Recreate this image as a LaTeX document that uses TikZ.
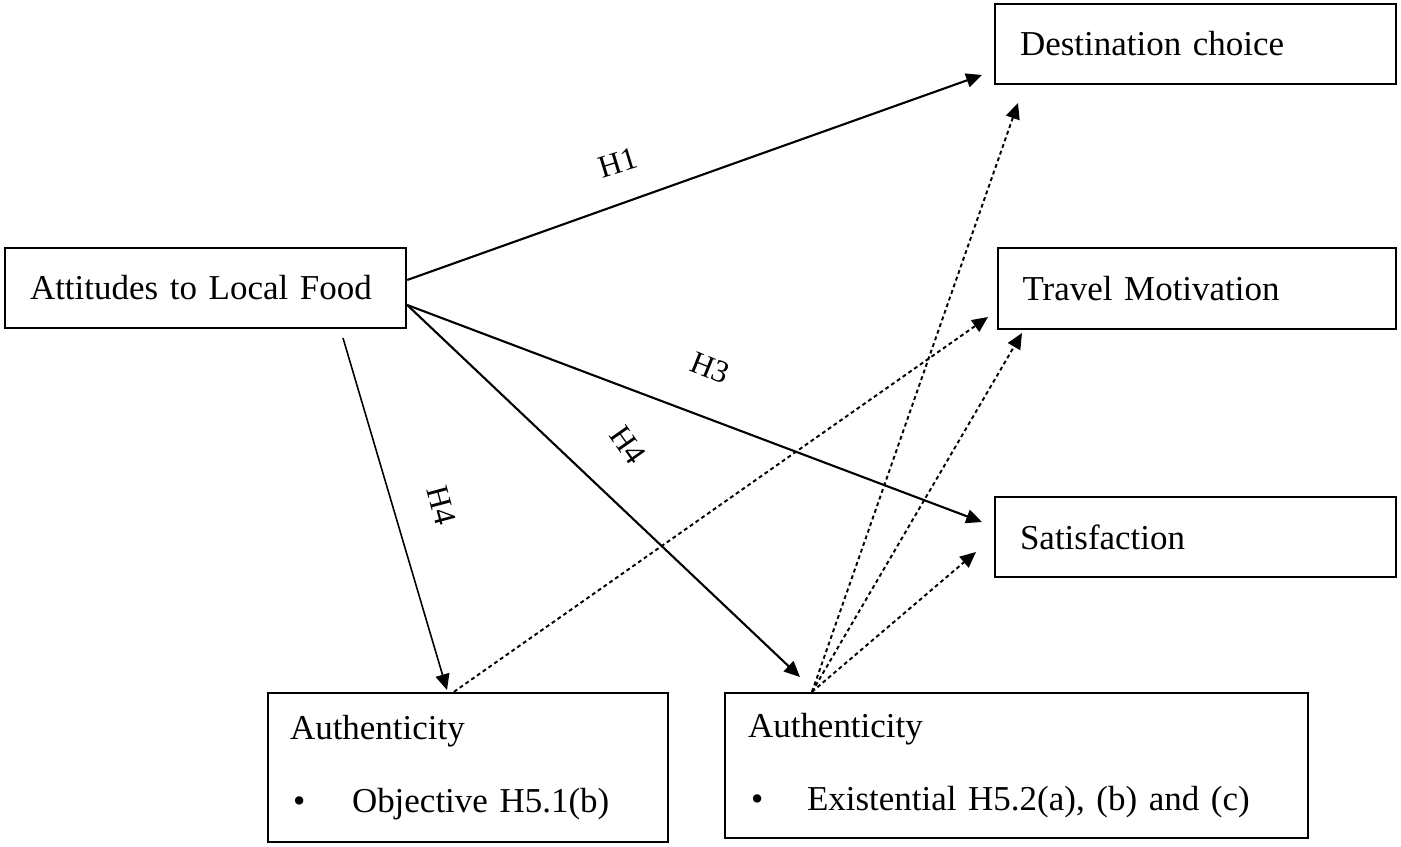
\documentclass[tikz,border=0pt]{standalone}
\usepackage{fontspec}
\setmainfont{Liberation Serif}
\usetikzlibrary{arrows.meta}
\begin{document}
\begin{tikzpicture}[x=0.02cm,y=-0.02cm,
  box/.style={draw, line width=1.4pt, inner ysep=0pt, align=left,
    font=\fontsize{19.9}{24}\selectfont},
  twoline/.style={box, font=\fontsize{19.9}{42}\selectfont},
  lbl/.style={font=\fontsize{18}{20}\selectfont, inner sep=0pt},
  solidarrow/.style={line width=1.2pt, -{Triangle[length=9pt,width=8pt]}},
  dasharrow/.style={line width=1.1pt, dash pattern=on 2.2pt off 1.8pt,
    -{Triangle[length=9pt,width=8pt]}}]
\useasboundingbox (0,0) rectangle (1401,847);

% boxes
\node[box, minimum width=8.02cm, minimum height=1.6cm, text width=7.02cm, inner xsep=0.5cm]
  (att) at (205.5,288) {Attitudes to Local Food};
\node[box, minimum width=8.02cm, minimum height=1.6cm, text width=7.02cm, inner xsep=0.5cm]
  (dest) at (1195.5,44) {Destination choice};
\node[box, minimum width=7.96cm, minimum height=1.62cm, text width=6.98cm, inner xsep=0.49cm]
  (tm) at (1197,288.5) {Travel Motivation};
\node[box, minimum width=8.02cm, minimum height=1.6cm, text width=7.02cm, inner xsep=0.5cm]
  (sat) at (1195.5,537) {Satisfaction};
\node[twoline, minimum width=8.0cm, minimum height=2.98cm, text width=7.12cm, inner xsep=0.44cm]
  (authL) at (468,767.5) {Authenticity\\\makebox[1.24cm][l]{\hspace{0.06cm}\textbullet}Objective H5.1(b)};
\node[twoline, minimum width=11.66cm, minimum height=2.9cm, text width=10.74cm, inner xsep=0.46cm]
  (authR) at (1016.5,765.5) {Authenticity\\\makebox[1.18cm][l]{\hspace{0.06cm}\textbullet}Existential H5.2(a), (b) and (c)};

% free ends
\coordinate (h1t) at (982,75);
\coordinate (h3t) at (982,522);
\coordinate (h4at) at (800,677);
\coordinate (h4bs) at (343,338);
\coordinate (h4bt) at (447,690);
\coordinate (dLt) at (988,317);
\coordinate (dDt) at (1018,103);
\coordinate (dTt) at (1022,333);
\coordinate (dSt) at (976,552);

% solid arrows
\draw[solidarrow] ([yshift=0.16cm]att.east) -- (h1t);
\draw[solidarrow] ([yshift=-0.34cm]att.east) -- (h3t);
\draw[solidarrow] ([yshift=-0.34cm]att.east) -- (h4at);
\draw[solidarrow, line width=0.9pt] (h4bs) -- (h4bt);

% dashed arrows
\draw[dasharrow] ([xshift=-0.28cm]authL.north) -- (dLt);
\draw[dasharrow] ([xshift=-4.09cm]authR.north) -- (dDt);
\draw[dasharrow] ([xshift=-4.09cm]authR.north) -- (dTt);
\draw[dasharrow] ([xshift=-4.09cm]authR.north) -- (dSt);

% labels
\node[lbl, rotate=17] (lh1) at (618,163) {H1};
\node[lbl, rotate=-22] (lh3) at (710,368) {H3};
\node[lbl, rotate=-55] (lh4a) at (628,445) {H4};
\node[lbl, rotate=-75] (lh4b) at (442,505) {H4};
\end{tikzpicture}
\end{document}
